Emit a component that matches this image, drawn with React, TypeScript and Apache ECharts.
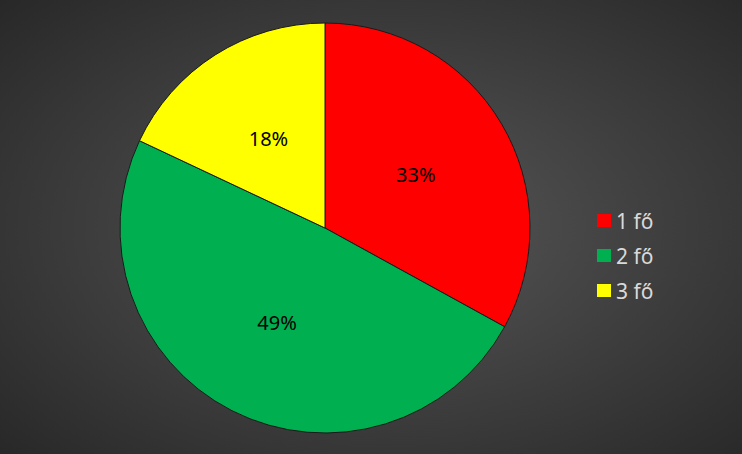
import { useEffect, useRef } from "react";
import * as echarts from "echarts";

const categories = ["1 fő", "2 fő", "3 fő"];
const shares = [33, 49, 18];
const sliceColors = ["#ff0000", "#00b050", "#ffff00"];

export default function App(): JSX.Element {
  const chartRef = useRef<HTMLDivElement>(null);

  useEffect(() => {
    document.body.style.margin = "0";
    const chart = echarts.init(chartRef.current, null, { renderer: "svg" });
    const option = {
      animation: false,
      backgroundColor: {
        type: "radial",
        x: 0.52,
        y: 0.5,
        r: 0.75,
        colorStops: [
          { offset: 0, color: "#575757" },
          { offset: 1, color: "#262626" },
        ],
      },
      legend: {
        orient: "vertical",
        left: 592,
        top: 205,
        itemWidth: 14,
        itemHeight: 13,
        itemGap: 14,
        icon: "rect",
        itemStyle: { borderWidth: 0 },
        textStyle: {
          color: "#d9d9d9",
          fontSize: 21,
          lineHeight: 20,
          fontFamily: "Noto Sans",
        },
        data: categories,
      },
      series: [
        {
          type: "pie",
          center: [325, 228],
          radius: [0, 205],
          startAngle: 90,
          clockwise: true,
          label: {
            show: true,
            position: "inside",
            formatter: "{c}%",
            color: "#000000",
            fontSize: 20,
            fontFamily: "Noto Sans",
          },
          labelLine: { show: false },
          itemStyle: { borderColor: "#1a1a1a", borderWidth: 1 },
          emphasis: { disabled: true },
          data: categories.map((name, i) => ({
            name,
            value: shares[i],
            itemStyle: { color: sliceColors[i] },
          })),
        },
      ],
    };
    chart.setOption(option);
    return () => {
      chart.dispose();
    };
  }, []);

  return <div ref={chartRef} style={{ width: 742, height: 454 }}></div>;
}
